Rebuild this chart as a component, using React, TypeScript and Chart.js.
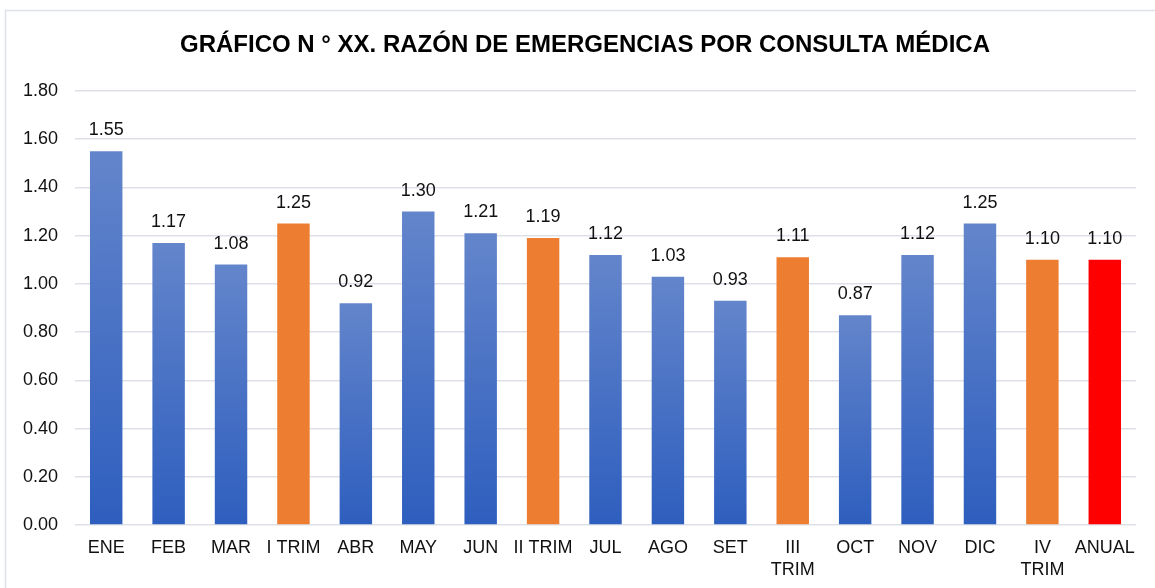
import React, { useEffect, useRef } from "react";
import { Chart, registerables } from "chart.js";

Chart.register(...registerables);

const TITLE = "GRÁFICO N ° XX. RAZÓN DE EMERGENCIAS POR CONSULTA MÉDICA";
const categories: (string | string[])[] = [
  "ENE", "FEB", "MAR", "I TRIM", "ABR", "MAY", "JUN", "II TRIM", "JUL", "AGO", "SET",
  ["III", "TRIM"], "OCT", "NOV", "DIC", ["IV", "TRIM"], "ANUAL",
];
const values: number[] = [1.55, 1.17, 1.08, 1.25, 0.92, 1.3, 1.21, 1.19, 1.12, 1.03, 0.93, 1.11, 0.87, 1.12, 1.25, 1.1, 1.1];
const yTicks: number[] = [0, 0.2, 0.4, 0.6, 0.8, 1.0, 1.2, 1.4, 1.6, 1.8];

const FONT = "'Liberation Sans', Arial, sans-serif";
const GRID = "#DDE1E7";
const TEXT = "#111111";

const labelText = (c: string | string[]) => (Array.isArray(c) ? c.join(" ") : c);

const framePlugin = {
  id: "frame",
  beforeDraw(chart: any) {
    const ctx = chart.ctx;
    ctx.save();
    ctx.fillStyle = "#ffffff";
    ctx.fillRect(0, 0, chart.width, chart.height);
    ctx.strokeStyle = GRID;
    ctx.lineWidth = 1.5;
    ctx.strokeRect(5.5, 10.5, chart.width + 50, chart.height + 50);
    ctx.fillStyle = "#000000";
    ctx.font = `bold 24px ${FONT}`;
    ctx.textAlign = "center";
    ctx.textBaseline = "middle";
    ctx.fillText(TITLE, 585, 45);
    ctx.restore();
  },
  afterDatasetsDraw(chart: any) {
    const ctx = chart.ctx;
    const meta = chart.getDatasetMeta(0);
    ctx.save();
    ctx.fillStyle = TEXT;
    ctx.font = `18px ${FONT}`;
    ctx.textAlign = "center";
    ctx.textBaseline = "middle";
    meta.data.forEach((bar: any, i: number) => {
      ctx.fillText(values[i].toFixed(2), bar.x, bar.y - 21);
    });
    ctx.restore();
  },
};

export default function App() {
  const ref = useRef<HTMLCanvasElement>(null);
  useEffect(() => {
    const chart = new Chart(ref.current!, {
      type: "bar",
      data: {
        labels: categories,
        datasets: [
          {
            data: values,
            barPercentage: 0.52,
            categoryPercentage: 1,
            backgroundColor: (c: any) => {
              const lab = labelText(categories[c.dataIndex] ?? "");
              if (lab.includes("TRIM")) return "#ED7D31";
              if (lab === "ANUAL") return "#FF0000";
              const chart = c.chart;
              const ys = chart.scales?.y;
              if (!chart.chartArea || !ys) return "#4472C4";
              const top = ys.getPixelForValue(values[c.dataIndex]);
              const bottom = ys.getPixelForValue(0);
              if (!isFinite(top) || !isFinite(bottom) || top === bottom) return "#4472C4";
              const g = chart.ctx.createLinearGradient(0, top, 0, bottom);
              g.addColorStop(0, "#6385CB");
              g.addColorStop(1, "#2E5EBE");
              return g;
            },
          },
        ],
      },
      options: {
        animation: false,
        responsive: false,
        maintainAspectRatio: false,
        layout: { padding: { top: 91, right: 19, left: 0, bottom: 0 } },
        plugins: { legend: { display: false }, tooltip: { enabled: false }, title: { display: false } },
        scales: {
          x: {
            grid: { display: false, drawTicks: false },
            border: { display: false },
            ticks: {
              color: TEXT,
              font: { family: FONT, size: 18, lineHeight: 1.17 },
              padding: 13,
              maxRotation: 0,
              autoSkip: false,
            },
            afterFit: (s: any) => {
              s.height = 63;
            },
          },
          y: {
            min: 0,
            max: 1.8,
            afterBuildTicks: (s: any) => {
              s.ticks = yTicks.map((v) => ({ value: v }));
            },
            grid: { color: GRID, lineWidth: 1.5, drawTicks: false },
            border: { display: false },
            ticks: {
              color: TEXT,
              font: { family: FONT, size: 18 },
              padding: 17,
              callback: (v: any) => Number(v).toFixed(2),
            },
            afterFit: (s: any) => {
              s.width = 75;
            },
          },
        },
      },
      plugins: [framePlugin],
    });
    return () => chart.destroy();
  }, []);
  return (
    <div style={{ position: "fixed", left: 0, top: 0, width: 1155, height: 588, background: "#fff" }}>
      <canvas ref={ref} width={1155} height={588} style={{ width: 1155, height: 588, display: "block" }} />
    </div>
  );
}
